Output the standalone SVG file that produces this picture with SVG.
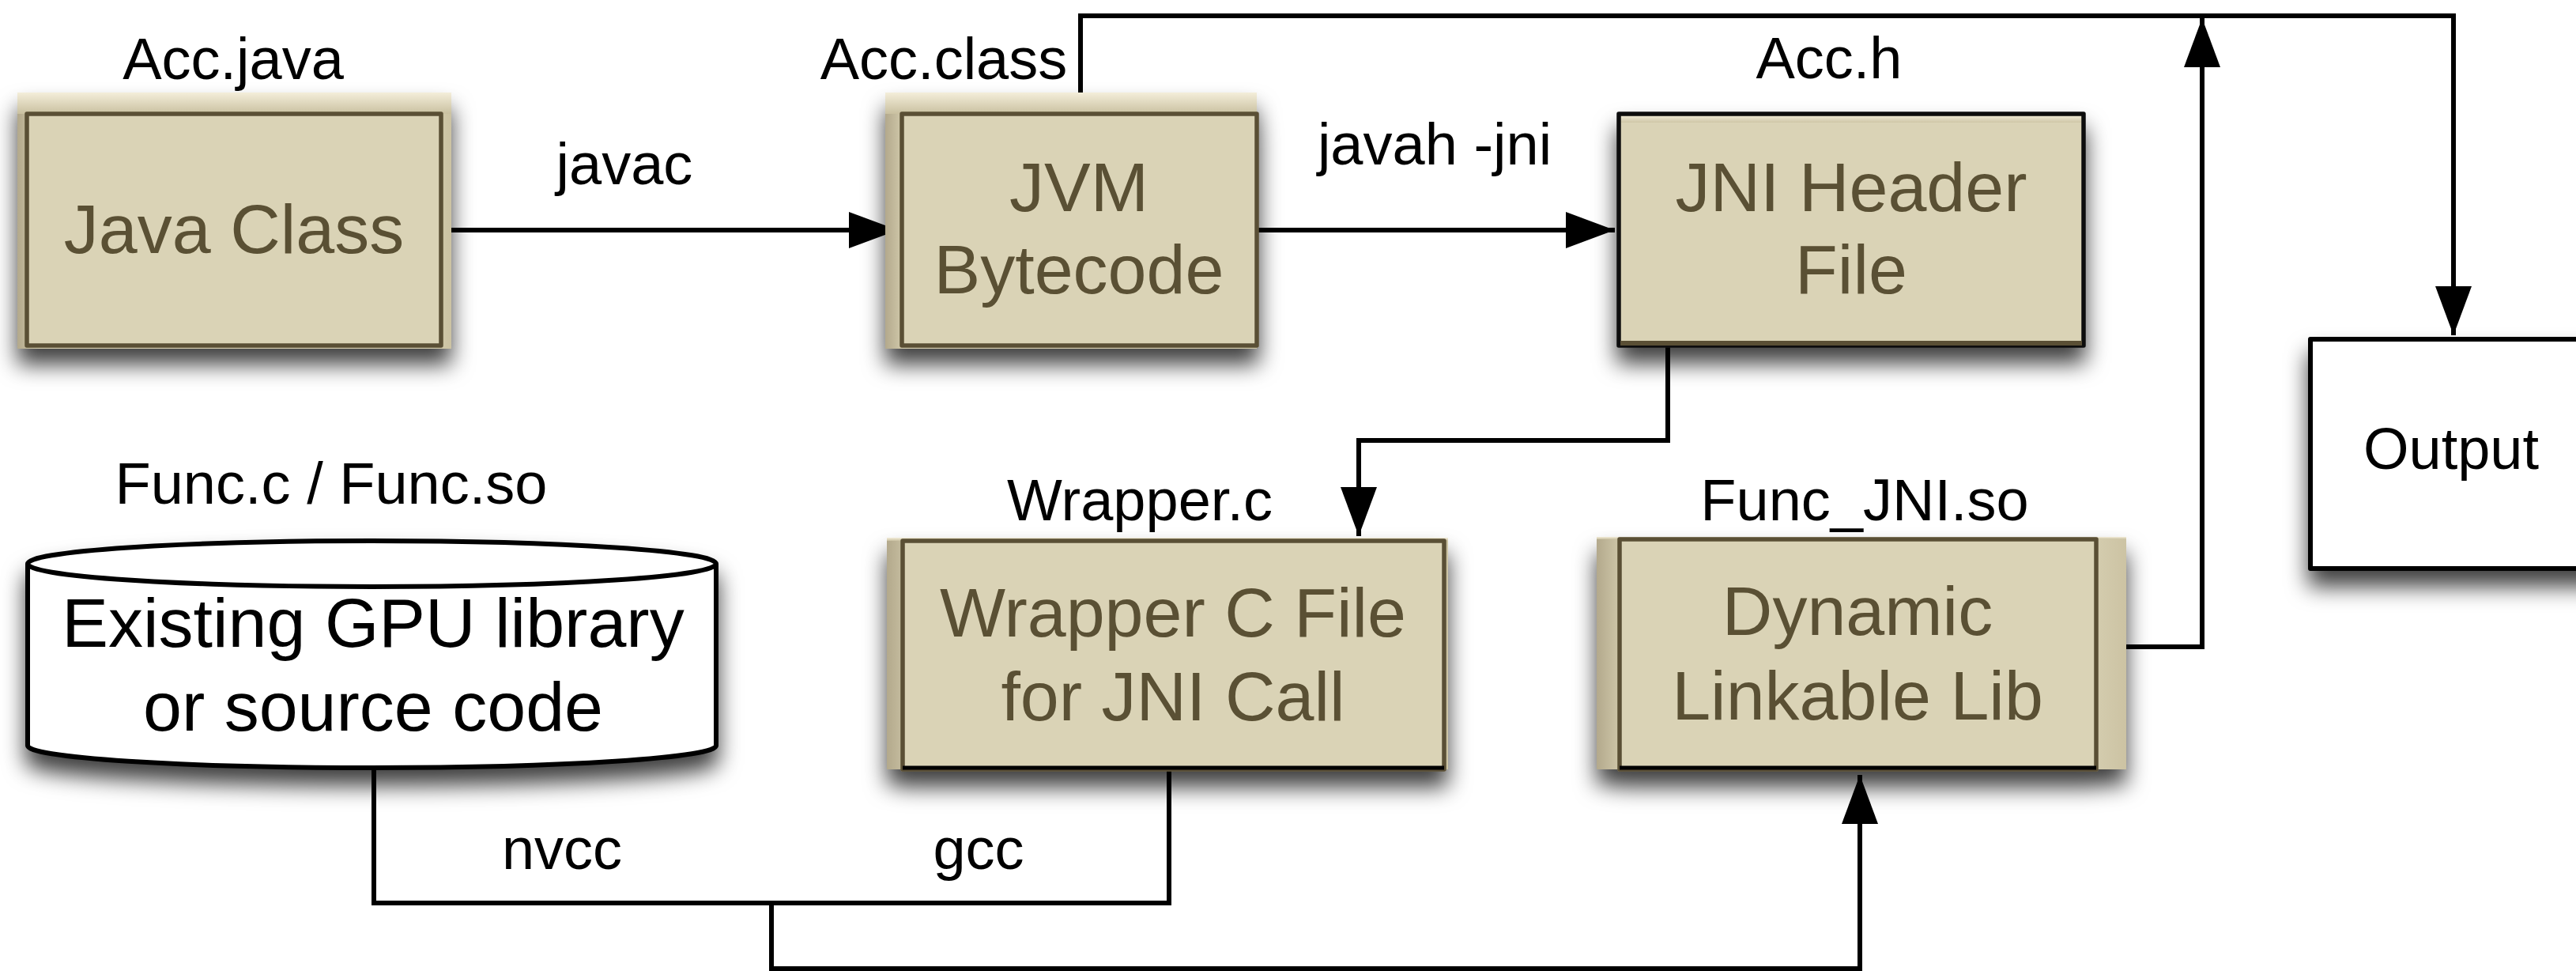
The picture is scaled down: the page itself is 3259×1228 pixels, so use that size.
<svg xmlns="http://www.w3.org/2000/svg" width="3259" height="1228" viewBox="0 0 3259 1228">
  <defs>
    <style>
      .label { font-family: "Liberation Sans", Arial, Helvetica, sans-serif; font-size: 74px; fill: #000; text-anchor: middle; }
      .boxtext { font-family: "Liberation Sans", Arial, Helvetica, sans-serif; font-size: 88px; fill: #5A5034; text-anchor: middle; }
      .plaintext { font-family: "Liberation Sans", Arial, Helvetica, sans-serif; font-size: 88px; fill: #000; text-anchor: middle; }
      .halo { fill: url(#haloSide); }
      .haloTop { fill: url(#haloTop); }
      .box { fill: #DAD3B6; stroke: #5A5034; stroke-width: 5.5; stroke-linejoin: round; }
      .box-dark { fill: #DAD3B6; stroke: #111; stroke-width: 5.5; stroke-linejoin: round; }
      .plain { fill: #fff; stroke: #000; stroke-width: 6; stroke-linejoin: round; }
      .wire { fill: none; stroke: #000; stroke-width: 6; stroke-linejoin: miter; }
    </style>
    <linearGradient id="haloSide" x1="0" y1="0" x2="1" y2="0">
      <stop offset="0" stop-color="#B3A98C"/>
      <stop offset="0.05" stop-color="#D3CBAD"/>
      <stop offset="0.95" stop-color="#D3CBAD"/>
      <stop offset="1" stop-color="#CCC3A3"/>
    </linearGradient>
    <linearGradient id="haloTop" x1="0" y1="0" x2="0" y2="1">
      <stop offset="0" stop-color="#F4EEDA"/>
      <stop offset="1" stop-color="#C9C0A0"/>
    </linearGradient>
    <filter id="shadow" x="-10%" y="-10%" width="120%" height="140%">
      <feDropShadow dx="0" dy="20" stdDeviation="14" flood-color="#000" flood-opacity="0.75"/>
    </filter>
    <marker id="arrow" markerWidth="62" markerHeight="46" refX="62" refY="23" orient="auto" markerUnits="userSpaceOnUse">
      <path d="M0,0 L62,23 L0,46 Z" fill="#000"/>
    </marker>
  </defs>

  <rect width="3259" height="1228" fill="#fff"/>

  <!-- connectors -->
  <g id="connectors">
    <path class="wire" d="M558,291 L1136,291" marker-end="url(#arrow)"/>
    <path class="wire" d="M1590,291 L2043,291" marker-end="url(#arrow)"/>
    <path class="wire" d="M1367,144 L1367,20 L3104,20 L3104,424" marker-end="url(#arrow)"/>
    <path class="wire" d="M2652,818 L2786,818 L2786,23" marker-end="url(#arrow)"/>
    <path class="wire" d="M2110,437 L2110,557 L1719,557 L1719,678" marker-end="url(#arrow)"/>
    <path class="wire" d="M473,971 L473,1142 L1479,1142 L1479,973"/>
    <path class="wire" d="M976,1142 L976,1225 L2353,1225 L2353,980" marker-end="url(#arrow)"/>
  </g>

  <!-- Java source -->
  <g id="node-java-class">
    <g filter="url(#shadow)">
      <rect class="halo" x="22" y="117" width="549" height="324"/>
      <rect class="haloTop" x="22" y="117" width="549" height="27"/>
      <rect class="box" x="34" y="144" width="524" height="293"/>
    </g>
    <text class="label" x="295" y="100">Acc.java</text>
    <text class="boxtext" x="296" y="320">Java Class</text>
  </g>

  <!-- compiled class -->
  <g id="node-jvm-bytecode">
    <g filter="url(#shadow)">
      <rect class="halo" x="1120" y="117" width="470" height="324"/>
      <rect class="haloTop" x="1120" y="117" width="470" height="27"/>
      <rect class="box" x="1141" y="144" width="449" height="293"/>
    </g>
    <text class="label" x="1194" y="100">Acc.class</text>
    <text class="boxtext" x="1365" y="267">JVM</text>
    <text class="boxtext" x="1365" y="371">Bytecode</text>
  </g>

  <!-- generated header -->
  <g id="node-jni-header">
    <g filter="url(#shadow)">
      <rect class="box-dark" x="2048" y="144" width="588" height="293"/>
      <rect class="haloTop" x="2051" y="147" width="582" height="8" opacity="0.7"/>
      <line x1="2050" y1="434" x2="2634" y2="434" stroke="#5A5034" stroke-width="6"/>
    </g>
    <text class="label" x="2314" y="99">Acc.h</text>
    <text class="boxtext" x="2342" y="267">JNI Header</text>
    <text class="boxtext" x="2342" y="371">File</text>
  </g>

  <!-- result -->
  <g id="node-output">
    <rect class="plain" x="2923" y="429" width="400" height="290" filter="url(#shadow)"/>
    <text class="label" x="3101" y="593">Output</text>
  </g>

  <!-- GPU code store -->
  <g id="node-gpu-library">
    <g filter="url(#shadow)">
      <path class="plain" d="M35,713 L35,943 A435.5,28 0 0 0 906,943 L906,713 A435.5,29 0 0 0 35,713 Z"/>
      <path class="wire" d="M35,713 A435.5,29 0 0 0 906,713"/>
    </g>
    <text class="label" x="419" y="637">Func.c / Func.so</text>
    <text class="plaintext" x="472" y="818">Existing GPU library</text>
    <text class="plaintext" x="472" y="924">or source code</text>
  </g>

  <!-- JNI wrapper source -->
  <g id="node-wrapper">
    <g filter="url(#shadow)">
      <rect class="halo" x="1122" y="680" width="710" height="293"/>
      <rect class="haloTop" x="1122" y="680" width="710" height="4"/>
      <rect class="box" x="1142" y="684" width="685" height="289"/>
      <line x1="1142" y1="971" x2="1827" y2="971" stroke="#000" stroke-width="5"/>
    </g>
    <text class="label" x="1442" y="658">Wrapper.c</text>
    <text class="boxtext" x="1484" y="805">Wrapper C File</text>
    <text class="boxtext" x="1484" y="911">for JNI Call</text>
  </g>

  <!-- shared library -->
  <g id="node-dynamic-lib">
    <g filter="url(#shadow)">
      <rect class="halo" x="2020" y="679" width="670" height="294"/>
      <rect class="haloTop" x="2020" y="679" width="670" height="3"/>
      <rect class="box" x="2049" y="682" width="603" height="291"/>
      <line x1="2049" y1="971" x2="2652" y2="971" stroke="#000" stroke-width="5"/>
    </g>
    <text class="label" x="2359" y="658">Func_JNI.so</text>
    <text class="boxtext" x="2350" y="803">Dynamic</text>
    <text class="boxtext" x="2350" y="910">Linkable Lib</text>
  </g>

  <!-- edge labels -->
  <g id="edge-labels">
    <text class="label" x="790" y="233">javac</text>
    <text class="label" x="1815" y="208">javah -jni</text>
    <text class="label" x="711" y="1099">nvcc</text>
    <text class="label" x="1238" y="1099">gcc</text>
  </g>
</svg>
